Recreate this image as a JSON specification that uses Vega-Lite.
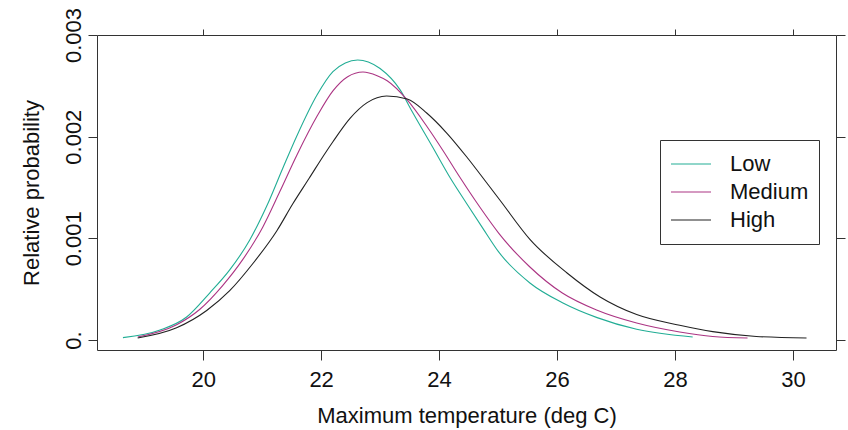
{
  "$schema": "https://vega.github.io/schema/vega-lite/v6.json",
  "width": 739,
  "height": 315,
  "autosize": {"type": "none"},
  "padding": {"left": 97, "top": 35, "right": 12, "bottom": 80},
  "background": "white",
  "config": {
    "font": "Liberation Sans",
    "view": {"stroke": "#333333", "strokeWidth": 1},
    "axis": {
      "grid": false,
      "domain": false,
      "tickColor": "#333333",
      "tickWidth": 1,
      "labelColor": "#111111",
      "titleColor": "#111111",
      "labelFont": "Liberation Sans",
      "titleFont": "Liberation Sans",
      "labelFontSize": 22,
      "titleFontSize": 22,
      "titleFontWeight": "normal"
    },
    "legend": {
      "labelFont": "Liberation Sans",
      "labelFontSize": 22,
      "labelColor": "#111111"
    }
  },
  "data": {
    "values": [
      {"series": "Low", "temp": 18.64, "prob": 0.000023},
      {"series": "Low", "temp": 19.27, "prob": 0.000098},
      {"series": "Low", "temp": 19.72, "prob": 0.000226},
      {"series": "Low", "temp": 20.11, "prob": 0.000462},
      {"series": "Low", "temp": 20.45, "prob": 0.000689},
      {"series": "Low", "temp": 20.79, "prob": 0.000984},
      {"series": "Low", "temp": 21.08, "prob": 0.001320},
      {"series": "Low", "temp": 21.35, "prob": 0.001690},
      {"series": "Low", "temp": 21.59, "prob": 0.002010},
      {"series": "Low", "temp": 21.93, "prob": 0.002410},
      {"series": "Low", "temp": 22.20, "prob": 0.002640},
      {"series": "Low", "temp": 22.41, "prob": 0.002725},
      {"series": "Low", "temp": 22.62, "prob": 0.002754},
      {"series": "Low", "temp": 22.80, "prob": 0.002735},
      {"series": "Low", "temp": 23.00, "prob": 0.002670},
      {"series": "Low", "temp": 23.34, "prob": 0.002460},
      {"series": "Low", "temp": 23.55, "prob": 0.002240},
      {"series": "Low", "temp": 23.89, "prob": 0.001898},
      {"series": "Low", "temp": 24.18, "prob": 0.001603},
      {"series": "Low", "temp": 24.47, "prob": 0.001340},
      {"series": "Low", "temp": 24.74, "prob": 0.001100},
      {"series": "Low", "temp": 25.01, "prob": 0.000866},
      {"series": "Low", "temp": 25.54, "prob": 0.000561},
      {"series": "Low", "temp": 26.10, "prob": 0.000364},
      {"series": "Low", "temp": 26.68, "prob": 0.000220},
      {"series": "Low", "temp": 27.35, "prob": 0.000105},
      {"series": "Low", "temp": 28.30, "prob": 0.000030},
      {"series": "Medium", "temp": 18.89, "prob": 0.000030},
      {"series": "Medium", "temp": 19.55, "prob": 0.000150},
      {"series": "Medium", "temp": 19.94, "prob": 0.000300},
      {"series": "Medium", "temp": 20.33, "prob": 0.000535},
      {"series": "Medium", "temp": 20.67, "prob": 0.000790},
      {"series": "Medium", "temp": 21.01, "prob": 0.001110},
      {"series": "Medium", "temp": 21.30, "prob": 0.001460},
      {"series": "Medium", "temp": 21.59, "prob": 0.001820},
      {"series": "Medium", "temp": 21.93, "prob": 0.002200},
      {"series": "Medium", "temp": 22.20, "prob": 0.002450},
      {"series": "Medium", "temp": 22.45, "prob": 0.002590},
      {"series": "Medium", "temp": 22.71, "prob": 0.002636},
      {"series": "Medium", "temp": 22.95, "prob": 0.002600},
      {"series": "Medium", "temp": 23.12, "prob": 0.002550},
      {"series": "Medium", "temp": 23.46, "prob": 0.002361},
      {"series": "Medium", "temp": 23.80, "prob": 0.002095},
      {"series": "Medium", "temp": 24.06, "prob": 0.001869},
      {"series": "Medium", "temp": 24.35, "prob": 0.001603},
      {"series": "Medium", "temp": 24.69, "prob": 0.001308},
      {"series": "Medium", "temp": 25.01, "prob": 0.001052},
      {"series": "Medium", "temp": 25.54, "prob": 0.000718},
      {"series": "Medium", "temp": 26.09, "prob": 0.000462},
      {"series": "Medium", "temp": 26.67, "prob": 0.000295},
      {"series": "Medium", "temp": 27.35, "prob": 0.000167},
      {"series": "Medium", "temp": 28.08, "prob": 0.000079},
      {"series": "Medium", "temp": 28.64, "prob": 0.000035},
      {"series": "Medium", "temp": 29.23, "prob": 0.000020},
      {"series": "High", "temp": 18.89, "prob": 0.000020},
      {"series": "High", "temp": 19.55, "prob": 0.000120},
      {"series": "High", "temp": 20.06, "prob": 0.000290},
      {"series": "High", "temp": 20.45, "prob": 0.000485},
      {"series": "High", "temp": 20.84, "prob": 0.000750},
      {"series": "High", "temp": 21.25, "prob": 0.001075},
      {"series": "High", "temp": 21.52, "prob": 0.001340},
      {"series": "High", "temp": 21.80, "prob": 0.001593},
      {"series": "High", "temp": 22.06, "prob": 0.001830},
      {"series": "High", "temp": 22.20, "prob": 0.001950},
      {"series": "High", "temp": 22.49, "prob": 0.002180},
      {"series": "High", "temp": 22.78, "prob": 0.002335},
      {"series": "High", "temp": 23.11, "prob": 0.002400},
      {"series": "High", "temp": 23.46, "prob": 0.002370},
      {"series": "High", "temp": 23.79, "prob": 0.002233},
      {"series": "High", "temp": 24.13, "prob": 0.002036},
      {"series": "High", "temp": 24.47, "prob": 0.001800},
      {"series": "High", "temp": 24.81, "prob": 0.001544},
      {"series": "High", "temp": 25.03, "prob": 0.001377},
      {"series": "High", "temp": 25.54, "prob": 0.000990},
      {"series": "High", "temp": 26.17, "prob": 0.000659},
      {"series": "High", "temp": 26.73, "prob": 0.000423},
      {"series": "High", "temp": 27.35, "prob": 0.000250},
      {"series": "High", "temp": 28.08, "prob": 0.000145},
      {"series": "High", "temp": 28.64, "prob": 0.000082},
      {"series": "High", "temp": 29.38, "prob": 0.000035},
      {"series": "High", "temp": 30.23, "prob": 0.000020}
    ]
  },
  "layer": [
    {
      "mark": {"type": "line", "strokeWidth": 1.1, "interpolate": "monotone"},
      "encoding": {
        "x": {
          "field": "temp",
          "type": "quantitative",
          "scale": {"domain": [18.2, 30.73], "nice": false, "zero": false},
          "axis": {
            "orient": "bottom",
            "values": [20, 22, 24, 26, 28, 30],
            "format": "d",
            "tickSize": 10,
            "labelPadding": 9,
            "title": "Maximum temperature (deg C)",
            "titleX": 369.5,
            "titleY": 72,
            "titleAlign": "center",
            "titleBaseline": "alphabetic"
          }
        },
        "y": {
          "field": "prob",
          "type": "quantitative",
          "scale": {"domain": [-0.0000984, 0.003], "nice": false, "zero": false},
          "axis": {
            "orient": "left",
            "values": [0, 0.001, 0.002, 0.003],
            "labelExpr": "datum.value == 0 ? '0.' : format(datum.value, '.3f')",
            "tickSize": 9,
            "labelAngle": 270,
            "labelAlign": "center",
            "labelBaseline": "alphabetic",
            "labelPadding": 8,
            "title": "Relative probability",
            "titleAngle": 270,
            "titleX": -59,
            "titleY": 157.5,
            "titleAlign": "center",
            "titleBaseline": "alphabetic"
          }
        },
        "color": {
          "field": "series",
          "type": "nominal",
          "scale": {
            "domain": ["Low", "Medium", "High"],
            "range": ["#22ad95", "#ab3483", "#222222"]
          },
          "legend": {
            "title": null,
            "orient": "none",
            "legendX": 563,
            "legendY": 105,
            "direction": "vertical",
            "symbolType": "stroke",
            "symbolSize": 1600,
            "symbolStrokeWidth": 1.1,
            "labelOffset": 18,
            "clipHeight": 28,
            "rowPadding": 0,
            "padding": 10,
            "strokeColor": "#333333",
            "fillColor": "white"
          }
        }
      }
    },
    {
      "mark": {"type": "line", "opacity": 0},
      "encoding": {
        "x": {
          "field": "temp",
          "type": "quantitative",
          "scale": {"domain": [18.2, 30.73], "nice": false, "zero": false},
          "axis": {
            "orient": "top",
            "values": [20, 22, 24, 26, 28, 30],
            "labels": false,
            "tickSize": 6,
            "title": null
          }
        },
        "y": {
          "field": "prob",
          "type": "quantitative",
          "scale": {"domain": [-0.0000984, 0.003], "nice": false, "zero": false},
          "axis": {
            "orient": "right",
            "values": [0, 0.001, 0.002, 0.003],
            "labels": false,
            "tickSize": 9,
            "title": null
          }
        },
        "detail": {"field": "series", "type": "nominal"}
      }
    }
  ],
  "resolve": {"axis": {"x": "independent", "y": "independent"}}
}
